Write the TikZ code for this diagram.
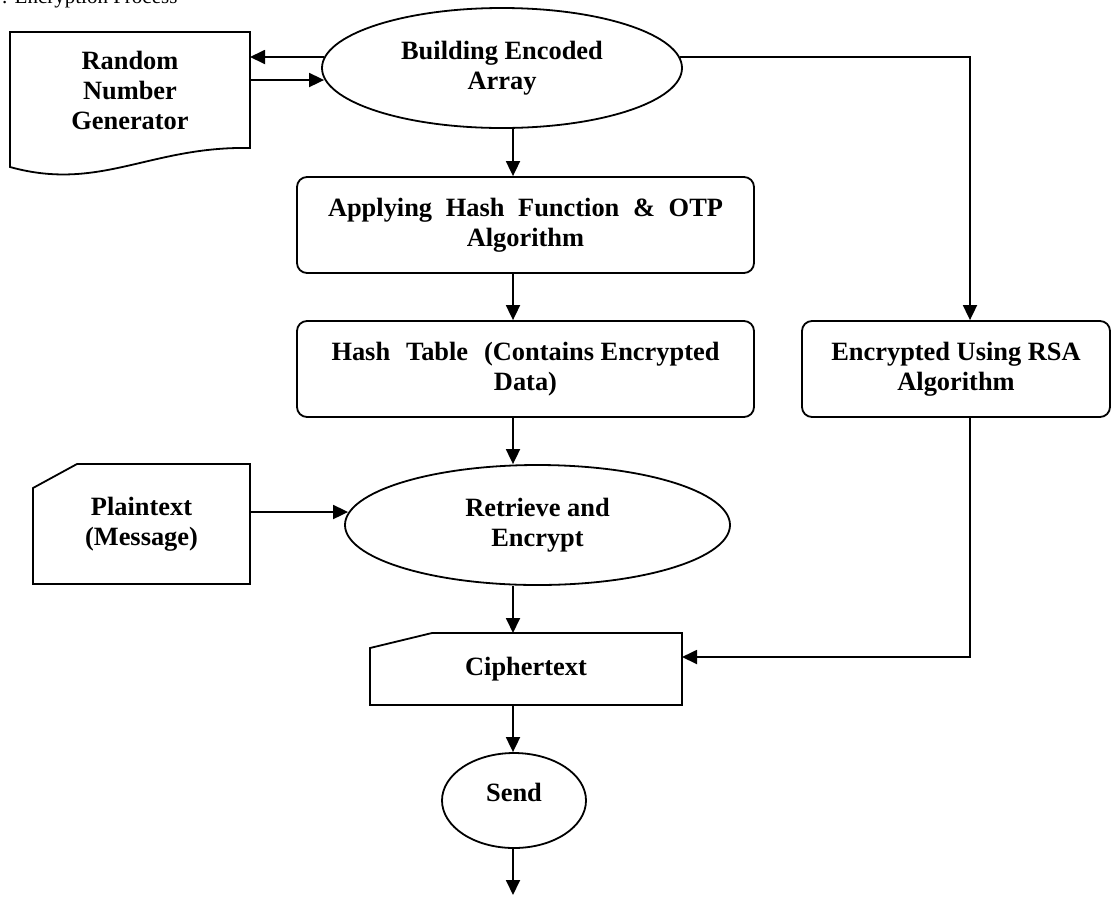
\documentclass[tikz,border=0pt]{standalone}
\usepackage{fontspec}
\setmainfont{Liberation Serif}
\usetikzlibrary{shapes.geometric,arrows.meta,calc}
\begin{document}
\begin{tikzpicture}[x=1pt,y=-1pt,line width=1.8pt,
  every node/.style={font=\fontsize{26.4}{30}\selectfont\bfseries, align=center, inner sep=0pt},
  arr/.style={-{Triangle[length=15pt,width=14pt]}},
  oval/.style={ellipse, draw},
  rbox/.style={rectangle, draw, rounded corners=10pt},
  plainshape/.style={rectangle, draw=none, outer sep=0pt}
]
\useasboundingbox (0,0) rectangle (1111,898);
\fill[white] (0,0) rectangle (1111,898);

% title (cut off at top)
\node[anchor=base west, font=\fontsize{21}{24}\selectfont\mdseries] (title) at (1,3) {: Encryption Process};

% nodes
\node[oval, minimum width=360pt, minimum height=120pt] (build) at (502,68) {Building Encoded\\Array};
\node[rbox, minimum width=457pt, minimum height=96pt] (apply) at (525.5,225)
  {\makebox[395pt][s]{Applying Hash Function \& OTP}\\Algorithm};
\node[rbox, minimum width=457pt, minimum height=96pt] (hash) at (525.5,369)
  {\makebox[388pt]{Hash\hfill Table\hfill (Contains Encrypted}\\Data)};
\node[rbox, minimum width=308pt, minimum height=96pt] (rsa) at (956,369) {Encrypted Using RSA\\Algorithm};
\node[plainshape, minimum width=240pt, minimum height=116pt] (rng) at (130,90) {Random\\Number\\Generator};
\node[plainshape, minimum width=217pt, minimum height=120pt] (plain) at (141.5,524) {Plaintext\\(Message)};
\node[oval, minimum width=385pt, minimum height=120pt] (retrieve) at (537.5,525) {Retrieve and\\Encrypt};
\node[plainshape, minimum width=312pt, minimum height=72pt] (cipher) at (526,669) {Ciphertext};
\node[oval, minimum width=144pt, minimum height=95pt] (send) at (514,800.5) {\raisebox{8pt}[\height][\depth]{Send}};

% special outlines
\draw (rng.north west) -- (rng.north east) -- (rng.south east)
  .. controls ($(rng.south east)+(-100,-2)$) and ($(rng.south west)+(90,44)$) .. ($(rng.south west)+(0,19)$) -- cycle;
\draw ($(plain.north west)+(44,0)$) -- (plain.north east) -- (plain.south east) -- (plain.south west) -- ($(plain.north west)+(0,24)$) -- cycle;
\draw ($(cipher.north west)+(62,0)$) -- (cipher.north east) -- (cipher.south east) -- (cipher.south west) -- ($(cipher.north west)+(0,15)$) -- cycle;

% helper coordinates
\coordinate (ax) at (513,0);
\coordinate (rx) at (970,0);
\coordinate (endpt) at (513,895);
\coordinate (bwA) at ([xshift=3pt,yshift=11pt]build.west);
\coordinate (bwB) at ([xshift=3pt,yshift=-12pt]build.west);
\coordinate (rngB) at ([yshift=-12pt]rng.east -| rng.east);
\coordinate (beA) at ([xshift=-3pt,yshift=11pt]build.east);
\coordinate (plA) at ([yshift=12pt]plain.east);
\coordinate (rwA) at ([xshift=4pt]retrieve.west);

% connectors
\draw[arr] (bwA) -- (bwA -| rng.east);
\draw[arr] (bwB -| rng.east) -- (bwB);
\draw[arr] (beA) -| (rsa.north -| rx);
\draw[arr] (build.south -| ax) -- (apply.north -| ax);
\draw[arr] (apply.south -| ax) -- (hash.north -| ax);
\draw[arr] (hash.south -| ax) -- (retrieve.north -| ax);
\draw[arr] (plA) -- (plA -| rwA);
\draw[arr] (retrieve.south -| ax) -- (cipher.north -| ax);
\draw[arr] (rsa.south -| rx) |- ([yshift=12pt]cipher.east);
\draw[arr] (cipher.south -| ax) -- (send.north -| ax);
\draw[arr] (send.south -| ax) -- (endpt);
\end{tikzpicture}
\end{document}
